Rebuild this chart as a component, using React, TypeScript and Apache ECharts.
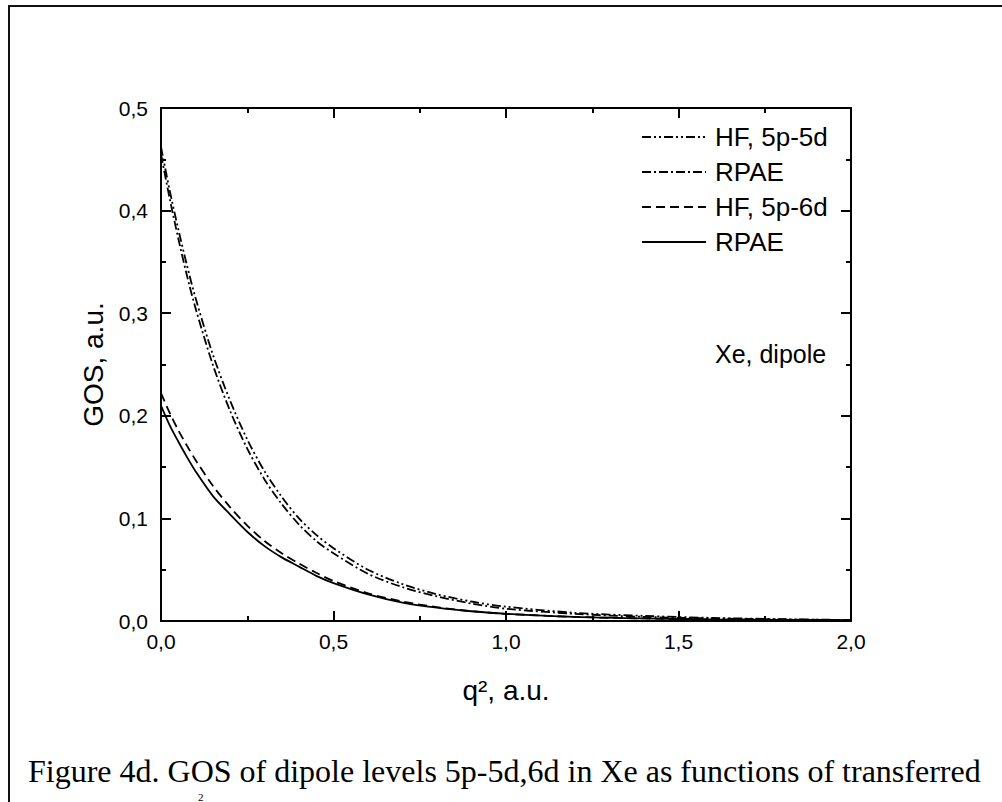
import React, { useEffect, useRef } from "react";
import * as echarts from "echarts";

// transferred momentum squared q^2 (a.u.)
const q2 = [0, 0.025, 0.05, 0.075, 0.1, 0.15, 0.2, 0.25, 0.3, 0.35, 0.4, 0.45, 0.5, 0.6, 0.7, 0.8, 0.9, 1.0, 1.2, 1.4, 1.6, 1.8, 2.0];

// GOS values (a.u.)
const hf5d = [0.462, 0.42, 0.382, 0.347, 0.315, 0.26, 0.215, 0.177, 0.146, 0.121, 0.1, 0.084, 0.071, 0.05, 0.036, 0.026, 0.019, 0.014, 0.008, 0.005, 0.003, 0.0018, 0.001];
const rpae5d = [0.455, 0.412, 0.373, 0.337, 0.305, 0.25, 0.205, 0.168, 0.138, 0.114, 0.094, 0.078, 0.066, 0.046, 0.033, 0.024, 0.017, 0.012, 0.007, 0.004, 0.0025, 0.0015, 0.001];
const hf6d = [0.222, 0.203, 0.186, 0.171, 0.157, 0.132, 0.111, 0.093, 0.078, 0.066, 0.056, 0.047, 0.039, 0.027, 0.019, 0.0135, 0.0095, 0.007, 0.004, 0.0025, 0.0015, 0.001, 0.0006];
const rpae6d = [0.21, 0.191, 0.175, 0.16, 0.146, 0.122, 0.104, 0.087, 0.073, 0.062, 0.053, 0.044, 0.037, 0.026, 0.018, 0.013, 0.0095, 0.007, 0.004, 0.0025, 0.0015, 0.001, 0.0006];

const seriesNames = ["HF, 5p-5d", "RPAE", "HF, 5p-6d", "RPAE "];
const seriesData = [hf5d, rpae5d, hf6d, rpae6d];
const dashes: (number[] | string)[] = [[9, 3, 2, 3, 2, 3], [9, 3, 2, 3], [9, 5], "solid"];

const captionText = "Figure 4d. GOS of dipole levels 5p-5d,6d in Xe as functions of transferred";
const annotation = "Xe, dipole";

const FONT = "'Liberation Sans', Arial, sans-serif";
const SERIF = "'Liberation Serif', 'Times New Roman', serif";

const fmt = (v: number) => v.toFixed(1).replace(".", ",");

export default function App() {
  const ref = useRef<HTMLDivElement>(null);
  useEffect(() => {
    if (!ref.current) return;
    const chart = echarts.init(ref.current, null, { renderer: "svg" });
    const axisCommon = {
      type: "value" as const,
      axisLine: { show: true, onZero: false, lineStyle: { color: "#000", width: 2 } },
      axisTick: { show: true, inside: true, length: 10, lineStyle: { color: "#000", width: 2 } },
      minorTick: { show: true, splitNumber: 2, length: 5, lineStyle: { color: "#000", width: 2 } },
      splitLine: { show: false },
    };
    chart.setOption({
      animation: false,
      backgroundColor: "#fff",
      textStyle: { fontFamily: FONT },
      grid: { left: 161, right: 151, top: 108, bottom: 181 },
      legend: {
        orient: "vertical",
        left: 641,
        top: 124,
        padding: 0,
        itemWidth: 64,
        itemHeight: 14,
        itemGap: 9,
        data: seriesNames,
        itemStyle: { opacity: 0, borderWidth: 0 },
        textStyle: { fontFamily: FONT, fontSize: 26, color: "#000", padding: [0, 0, 0, 4] },
      },
      xAxis: [
        {
          ...axisCommon,
          min: 0,
          max: 2,
          interval: 0.5,
          position: "bottom",
          axisLabel: { formatter: fmt, fontSize: 21, color: "#000", margin: 10, fontFamily: FONT },
          name: "q², a.u.",
          nameLocation: "middle",
          nameGap: 55,
          nameTextStyle: { fontSize: 28, color: "#000", fontFamily: FONT },
        },
        {
          ...axisCommon,
          min: 0,
          max: 2,
          interval: 0.5,
          position: "top",
          axisLabel: { show: false },
        },
      ],
      yAxis: [
        {
          ...axisCommon,
          min: 0,
          max: 0.5,
          interval: 0.1,
          position: "left",
          axisLabel: { formatter: fmt, fontSize: 21, color: "#000", margin: 13, fontFamily: FONT },
          name: "GOS, a.u.",
          nameLocation: "middle",
          nameGap: 54,
          nameRotate: 90,
          nameTextStyle: { fontSize: 28, color: "#000", fontFamily: FONT },
        },
        {
          ...axisCommon,
          min: 0,
          max: 0.5,
          interval: 0.1,
          position: "right",
          axisLabel: { show: false },
        },
      ],
      series: seriesNames.map((name, i) => ({
        name,
        type: "line",
        xAxisIndex: 0,
        yAxisIndex: 0,
        smooth: 0.3,
        symbol: "none",
        data: q2.map((x, j) => [x, seriesData[i][j]]),
        lineStyle: { color: "#000", width: 1.8, type: dashes[i] },
        itemStyle: { color: "#000" },
      })),
      graphic: [
        {
          type: "rect",
          shape: { x: 9, y: 6, width: 1200, height: 1000 },
          style: { fill: "none", stroke: "#111", lineWidth: 2 },
          silent: true,
        },
        {
          type: "text",
          left: 715,
          top: 341,
          style: { text: annotation, font: `25px ${FONT}`, fill: "#000" },
        },
        {
          type: "text",
          x: 28,
          y: 771,
          style: { text: captionText, font: `32px ${SERIF}`, fill: "#000", verticalAlign: "middle" },
        },
        {
          type: "text",
          x: 198,
          y: 791,
          style: { text: "2", font: `11px ${SERIF}`, fill: "#000", verticalAlign: "top" },
        },
      ],
    });
    return () => chart.dispose();
  }, []);
  return (
    <div
      ref={ref}
      style={{ position: "fixed", left: 0, top: 0, width: 1002, height: 802, background: "#fff" }}
    />
  );
}
